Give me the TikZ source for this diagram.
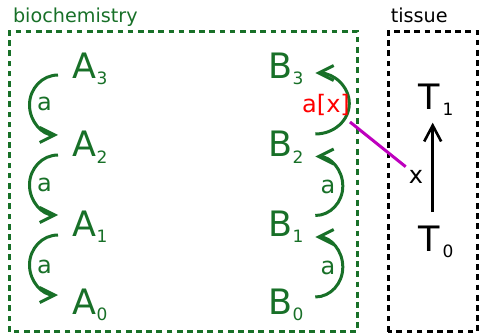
\documentclass[tikz,border=0pt]{standalone}
\usepackage{fontspec}
\setmainfont{DejaVu Sans}
\usetikzlibrary{arrows.meta,calc}
\definecolor{bio}{RGB}{24,112,40}
\definecolor{link}{RGB}{190,0,190}
\newcommand\ix[1]{\raisebox{-6pt}{\fontsize{17}{17}\selectfont #1}}
\tikzset{
	big/.style={inner sep=0pt, anchor=base west, font=\fontsize{35}{35}\selectfont},
	lbl/.style={inner sep=0pt, font=\fontsize{24}{24}\selectfont},
	hdr/.style={inner sep=0pt, anchor=base west, font=\fontsize{19.2}{19.2}\selectfont},
	frame/.style={line width=3pt, dash pattern=on 5.7pt off 4.5pt},
	rxn/.style={bio, line width=3pt, -{Straight Barb[length=15pt,width=15pt]}},
}
\begin{document}
\begin{tikzpicture}[x=1pt,y=1pt, line join=miter]
	\useasboundingbox (0,0) rectangle (479,335);
	% boxes
	\draw[frame, bio] (9.5,3.5) rectangle (357,303.5);
	\draw[frame] (388,3.5) rectangle (477.5,303.5);
	\node[hdr, bio] (bioch) at (12.8,312) {biochemistry};
	\node[hdr] (tiss) at (390.6,312) {tissue};
	% species
	\node[big, bio] (A3) at (72.5,256) {A\ix{3}};
	\node[big, bio] (A2) at (72.5,178) {A\ix{2}};
	\node[big, bio] (A1) at (72.5,99) {A\ix{1}};
	\node[big, bio] (A0) at (72.5,21) {A\ix{0}};
	\node[big, bio] (B3) at (268.3,256) {B\ix{3}};
	\node[big, bio] (B2) at (268.3,178) {B\ix{2}};
	\node[big, bio] (B1) at (268.3,99) {B\ix{1}};
	\node[big, bio] (B0) at (268.3,21) {B\ix{0}};
	\node[big] (T1) at (418,225) {T\hspace{3pt}\ix{1}};
	\node[big] (T0) at (418,84) {T\hspace{3pt}\ix{0}};
	% reactions
	\draw[rxn] ($(A3.base west)+(-14.5,4)$) arc[start angle=90, end angle=270, x radius=28.5, y radius=30];
	\draw[rxn] ($(A2.base west)+(-14.5,2)$) arc[start angle=90, end angle=270, x radius=28.5, y radius=30];
	\draw[rxn] ($(A1.base west)+(-14.5,1)$) arc[start angle=90, end angle=270, x radius=28.5, y radius=30];
	\draw[rxn] ($(B2.base west)+(47,23)$) arc[start angle=-90, end angle=90, x radius=34, y radius=30.5];
	\draw[rxn] ($(B1.base west)+(47,20.5)$) arc[start angle=-90, end angle=90, x radius=27.5, y radius=29.5];
	\draw[rxn] ($(B0.base west)+(47,17)$) arc[start angle=-90, end angle=90, x radius=27.5, y radius=30];
	\node[lbl, bio] (ra3) at (44.5,231) {a};
	\node[lbl, bio] (ra2) at (44.5,150) {a};
	\node[lbl, bio] (ra1) at (44.5,68.5) {a};
	\node[lbl, red] (rb3) at (326,230) {a[x]};
	\node[lbl, bio] (rb2) at (328,148.5) {a};
	\node[lbl, bio] (rb1) at (328,67) {a};
	% coupling
	\coordinate (ax) at ($(B2.base west)+(81.7,35)$);
	\node[lbl, inner sep=3pt] (xl) at (416,158.5) {x};
	\draw[link, line width=3pt] (ax) -- (xl.north west);
	\draw[line width=2.6pt, -{Straight Barb[length=16pt,width=17pt]}] ($(T0.base west)+(14.7,39)$) -- ($(T1.base west)+(14.7,-12.7)$);
\end{tikzpicture}
\end{document}
